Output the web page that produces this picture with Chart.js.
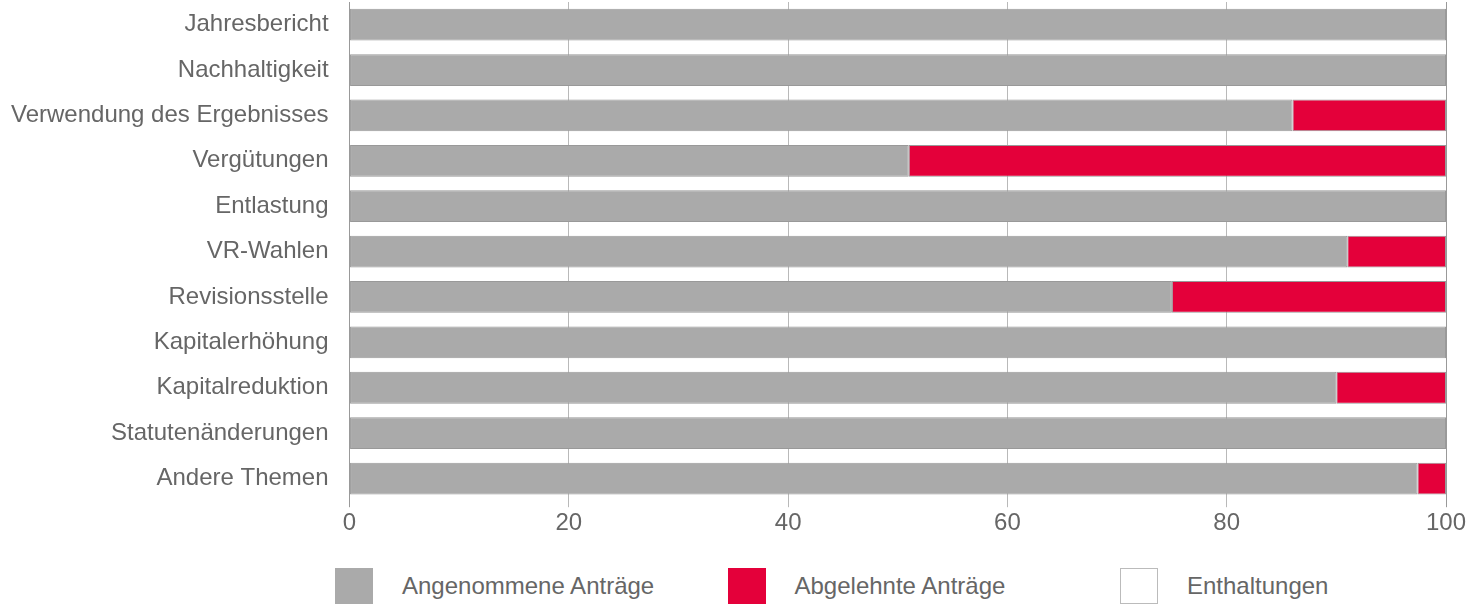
<!DOCTYPE html>
<html>
<head>
<meta charset="utf-8">
<script src="https://cdn.jsdelivr.net/npm/chart.js@4.4.0/dist/chart.umd.min.js"></script>
<style>
	html, body { margin: 0; padding: 0; background: #fff; }
	body { width: 1483px; height: 606px; position: relative; overflow: hidden;
		font-family: "Liberation Sans", Arial, sans-serif; }
	#wrap { position: absolute; left: 0; top: 0; width: 1483px; height: 540px; }
	#legend { position: absolute; left: 335px; top: 568px; display: flex; }
	.item { width: 392.5px; display: flex; align-items: center; }
	.box { width: 38px; height: 36px; box-sizing: border-box; }
	.txt { margin-left: 29px; font-size: 24px; color: #666; }
</style>
</head>
<body>
<div id="wrap"><canvas id="chart"></canvas></div>
<div id="legend"></div>
<script>
// Kategorien (Traktanden)
const categories = [
	'Jahresbericht', 'Nachhaltigkeit', 'Verwendung des Ergebnisses', 'Vergütungen',
	'Entlastung', 'VR-Wahlen', 'Revisionsstelle', 'Kapitalerhöhung',
	'Kapitalreduktion', 'Statutenänderungen', 'Andere Themen'
];
// Anteile in %
const angenommen = [100, 100, 86, 51, 100, 91, 75, 100, 90, 100, 97.4];
const abgelehnt = [0, 0, 14, 49, 0, 9, 25, 0, 10, 0, 2.6];
const enthaltungen = [0, 0, 0, 0, 0, 0, 0, 0, 0, 0, 0];
const xTicks = [0, 20, 40, 60, 80, 100];

const series = [
	{ label: 'Angenommene Anträge', data: angenommen, color: '#aaaaaa', border: '#999999' },
	{ label: 'Abgelehnte Anträge', data: abgelehnt, color: '#e4003a', border: '#999999' },
	{ label: 'Enthaltungen', data: enthaltungen, color: '#ffffff', border: '#bbbbbb' }
];

const chart = new Chart(document.getElementById('chart'), {
	type: 'bar',
	data: {
		labels: categories,
		datasets: series.map(s => ({
			label: s.label,
			data: s.data,
			backgroundColor: s.color,
			borderColor: s.border,
			borderWidth: 1,
			borderSkipped: false,
			barPercentage: 0.7,
			categoryPercentage: 1
		}))
	},
	options: {
		indexAxis: 'y',
		responsive: true,
		maintainAspectRatio: false,
		animation: false,
		layout: { padding: { left: -10, right: 37, top: 2, bottom: 0 } },
		plugins: { legend: { display: false }, tooltip: { enabled: false } },
		font: { family: '"Liberation Sans", Arial, sans-serif' },
		scales: {
			x: {
				stacked: true,
				min: 0,
				max: 100,
				z: 1,
				afterBuildTicks: axis => { axis.ticks = xTicks.map(v => ({ value: v })); },
				border: { display: false },
				grid: {
					color: ctx => (ctx.tick && (ctx.tick.value === 0 || ctx.tick.value === 100))
						? '#999999' : 'rgba(100,100,100,0.45)',
					lineWidth: 1,
					tickLength: 6
				},
				ticks: {
					color: '#666',
					padding: 2,
					font: { family: '"Liberation Sans", Arial, sans-serif', size: 24 }
				}
			},
			y: {
				stacked: true,
				border: { display: false },
				grid: { display: false, drawTicks: false },
				// die Tick-Abstände sollen nicht oben/unten Platz wegnehmen
				afterFit: s => { s.paddingTop = 0; s.paddingBottom = 0; },
				ticks: {
					color: '#666',
					padding: 21,
					font: { family: '"Liberation Sans", Arial, sans-serif', size: 24 }
				}
			}
		}
	}
});

// HTML-Legende aus den Datensätzen
const legend = document.getElementById('legend');
series.forEach(s => {
	const item = document.createElement('div');
	item.className = 'item';
	const box = document.createElement('div');
	box.className = 'box';
	box.style.background = s.color;
	if (s.color === '#ffffff') box.style.border = '1px solid ' + s.border;
	const txt = document.createElement('span');
	txt.className = 'txt';
	txt.textContent = s.label;
	item.appendChild(box);
	item.appendChild(txt);
	legend.appendChild(item);
});
</script>
</body>
</html>
